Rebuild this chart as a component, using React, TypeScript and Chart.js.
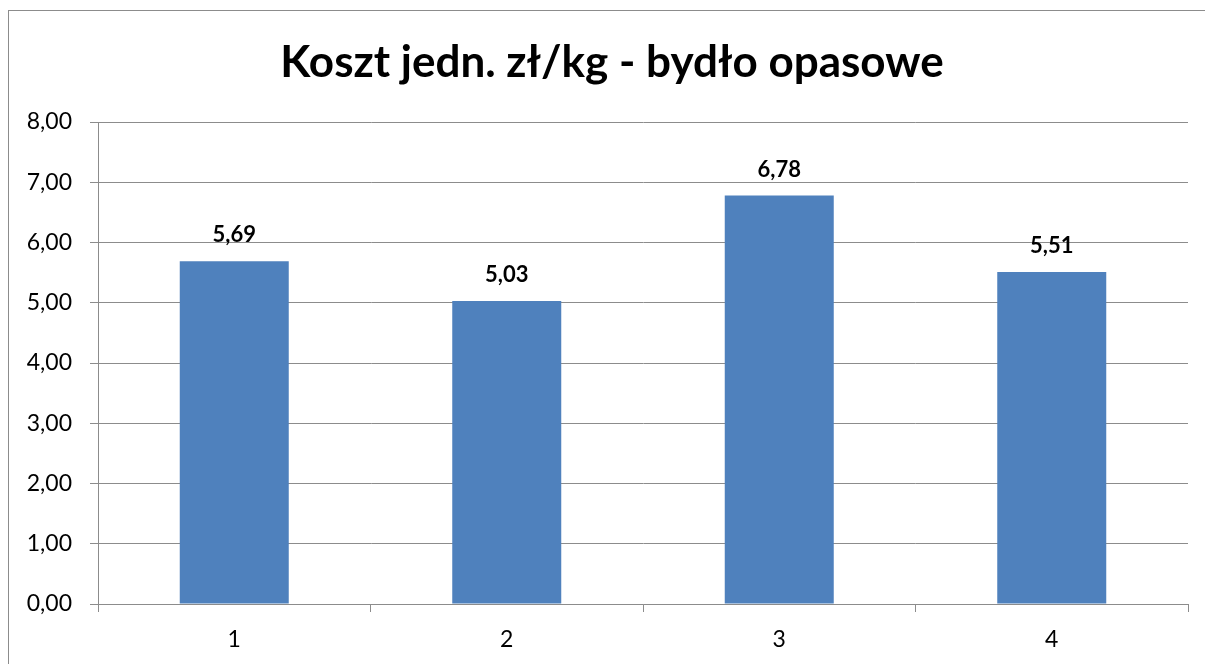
import React, { useEffect, useRef } from "react";
import { Chart, registerables } from "chart.js";

Chart.register(...registerables);

const TITLE = "Koszt jedn. zł/kg - bydło opasowe";
const categories = ["1", "2", "3", "4"];
const values = [5.69, 5.03, 6.78, 5.51];
const yMin = 0;
const yMax = 8;
const yStep = 1;

const FONT = "Lato, 'Open Sans', sans-serif";
const fmt = (v: number) => v.toFixed(2).replace(".", ",");

const framePlugin = {
  id: "frame",
  beforeDraw(chart: any) {
    const ctx = chart.ctx;
    ctx.save();
    ctx.fillStyle = "#ffffff";
    ctx.fillRect(0, 0, chart.width, chart.height);
    ctx.strokeStyle = "#8c8c8c";
    ctx.lineWidth = 1;
    ctx.strokeRect(8.5, 10.5, chart.width + 50, chart.height + 50);
    ctx.restore();
  },
  afterDraw(chart: any) {
    const ctx = chart.ctx;
    ctx.save();
    ctx.fillStyle = "#000000";
    ctx.font = `bold 44px ${FONT}`;
    ctx.textAlign = "center";
    ctx.textBaseline = "alphabetic";
    ctx.fillText(TITLE, 612, 77);
    // data labels
    const meta = chart.getDatasetMeta(0);
    ctx.font = `bold 22px ${FONT}`;
    meta.data.forEach((bar: any, i: number) => {
      ctx.fillText(fmt(values[i]), bar.x, bar.y - 19);
    });
    ctx.restore();
  },
};

export default function App() {
  const ref = useRef<HTMLCanvasElement>(null);
  useEffect(() => {
    if (!ref.current) return;
    const chart = new Chart(ref.current, {
      type: "bar",
      data: {
        labels: categories,
        datasets: [
          {
            data: values,
            backgroundColor: "#4F81BD",
            borderWidth: 0,
            categoryPercentage: 1,
            barPercentage: 0.4,
          },
        ],
      },
      options: {
        responsive: false,
        animation: false,
        layout: { padding: { left: 0, right: 17, top: 122, bottom: 0 } },
        plugins: {
          legend: { display: false },
          title: { display: false },
          tooltip: { enabled: false },
        },
        scales: {
          x: {
            afterFit: (s: any) => {
              s.height = 60;
            },
            grid: {
              offset: true,
              drawOnChartArea: false,
              drawTicks: true,
              tickLength: 8,
              color: "#8c8c8c",
              lineWidth: 1,
            },
            border: { color: "#8c8c8c", width: 1 },
            ticks: {
              color: "#000000",
              font: { family: FONT, size: 23 },
              padding: 14,
            },
          },
          y: {
            min: yMin,
            max: yMax,
            afterFit: (s: any) => {
              s.width = 98;
            },
            grid: {
              color: "#8c8c8c",
              lineWidth: 1,
              drawTicks: true,
              tickLength: 8,
            },
            border: { color: "#8c8c8c", width: 1 },
            ticks: {
              stepSize: yStep,
              color: "#000000",
              font: { family: FONT, size: 23 },
              padding: 18,
              callback: (v: any) => fmt(Number(v)),
            },
          },
        },
      },
      plugins: [framePlugin],
    });
    return () => chart.destroy();
  }, []);
  return (
    <canvas
      ref={ref}
      width={1205}
      height={664}
      style={{ position: "absolute", left: 0, top: 0, display: "block" }}
    />
  );
}
